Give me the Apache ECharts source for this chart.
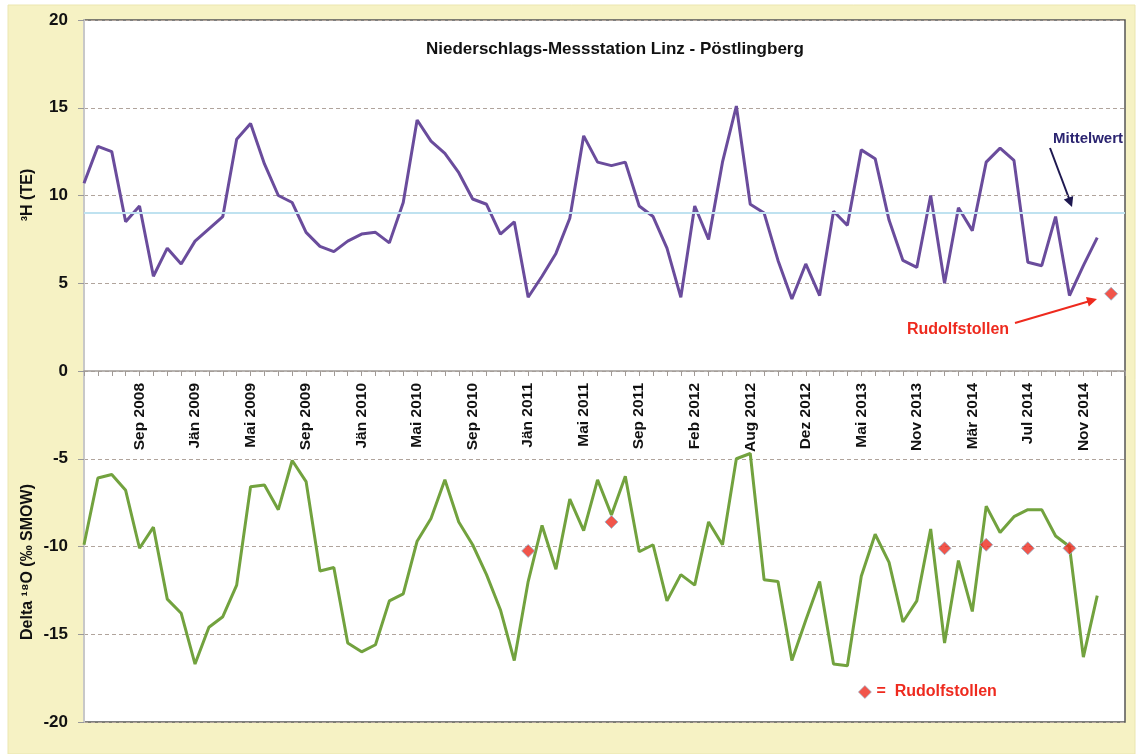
<!DOCTYPE html>
<html>
<head>
<meta charset="utf-8">
<script src="https://cdn.jsdelivr.net/npm/echarts@6/dist/echarts.min.js"></script>
<style>
  html, body { margin: 0; padding: 0; background: #fff; }
  #chart { width: 1137px; height: 754px; }
</style>
</head>
<body>
<div id="chart"></div>
<script>
// Beschriftete Monate (jede 4. Probe)
const tickLabels = ['Sep 2008', 'Jän 2009', 'Mai 2009', 'Sep 2009', 'Jän 2010', 'Mai 2010',
  'Sep 2010', 'Jän 2011', 'Mai 2011', 'Sep 2011', 'Feb 2012', 'Aug 2012', 'Dez 2012',
  'Mai 2013', 'Nov 2013', 'Mär 2014', 'Jul 2014', 'Nov 2014']
const sampleCount = 76

// Tritium (TE), Niederschlag
const tritium = [10.7, 12.8, 12.5, 8.5, 9.4, 5.4, 7.0, 6.1, 7.4, 8.1,
  8.8, 13.2, 14.1, 11.8, 10.0, 9.6, 7.9, 7.1, 6.8, 7.4,
  7.8, 7.9, 7.3, 9.6, 14.3, 13.1, 12.4, 11.3, 9.8, 9.5,
  7.8, 8.5, 4.2, 5.4, 6.7, 8.7, 13.4, 11.9, 11.7, 11.9,
  9.4, 8.8, 7.0, 4.2, 9.4, 7.5, 11.9, 15.1, 9.5, 9.0,
  6.3, 4.1, 6.1, 4.3, 9.1, 8.3, 12.6, 12.1, 8.6, 6.3,
  5.9, 10.0, 5.0, 9.3, 8.0, 11.9, 12.7, 12.0, 6.2, 6.0,
  8.8, 4.3, 6.0, 7.6]

// Delta 18O (‰ SMOW), Niederschlag
const delta18O = [-9.9, -6.1, -5.9, -6.8, -10.1, -8.9, -13.0, -13.8, -16.7, -14.6,
  -14.0, -12.2, -6.6, -6.5, -7.9, -5.1, -6.3, -11.4, -11.2, -15.5,
  -16.0, -15.6, -13.1, -12.7, -9.7, -8.4, -6.2, -8.6, -9.9, -11.6,
  -13.6, -16.5, -12.0, -8.8, -11.3, -7.3, -9.1, -6.2, -8.2, -6.0,
  -10.3, -9.9, -13.1, -11.6, -12.2, -8.6, -9.9, -5.0, -4.7, -11.9,
  -12.0, -16.5, -14.2, -12.0, -16.7, -16.8, -11.7, -9.3, -10.9, -14.3,
  -13.1, -9.0, -15.5, -10.8, -13.7, -7.7, -9.2, -8.3, -7.9, -7.9,
  -9.4, -10.0, -16.3, -12.8]

// Rudolfstollen Einzelproben
const rudolfIndex = [32, 38, 62, 65, 68, 71, 74]
const rudolfValue = [-10.25, -8.6, -10.1, -9.9, -10.1, -10.1, 4.4]

const meanTritium = 9.0

const categories = Array.from({ length: sampleCount }, (_, i) => String(i))
const labelAt = i => (i > 0 && i % 4 === 0 ? tickLabels[i / 4 - 1] : '')

const font = '"Liberation Sans", Arial, sans-serif'
const gridTop = 20
const gridBottom = 32
const plotHeight = 754 - gridTop - gridBottom

const myChart = echarts.init(document.getElementById('chart'))

myChart.setOption({
  animation: false,
  backgroundColor: '#fff',
  title: {
    text: 'Niederschlags-Messstation Linz - Pöstlingberg',
    left: 421,
    top: 36,
    textStyle: { fontFamily: font, fontSize: 17, fontWeight: 'bold', color: '#111' }
  },
  legend: {
    data: [{ name: 'Rudolfstollen', icon: 'diamond' }],
    left: 853,
    top: 679,
    itemWidth: 13,
    itemHeight: 13,
    itemGap: 6,
    itemStyle: { color: '#ee2a1e', borderColor: '#8fb8d0', borderWidth: 0.8 },
    formatter: '=  {name}',
    textStyle: { fontFamily: font, fontSize: 16, fontWeight: 'bold', color: '#ee2a1e' }
  },
  grid: {
    left: 84,
    top: gridTop,
    right: 12,
    bottom: gridBottom,
    outerBoundsMode: 'none',
    containLabel: false,
    show: true,
    backgroundColor: '#fff',
    borderColor: '#555',
    borderWidth: 1.5
  },
  graphic: [
    { type: 'rect', z: -10, shape: { x: 8, y: 5, width: 1127, height: 749 },
      style: { fill: '#f6f2c4', stroke: '#ebe6b0' } },
    { type: 'text', x: 28, y: 195, rotation: Math.PI / 2,
      style: { text: '³H (TE)', font: 'bold 16px ' + font, fill: '#111', align: 'center', verticalAlign: 'middle' } },
    { type: 'text', x: 28, y: 562, rotation: Math.PI / 2,
      style: { text: 'Delta ¹⁸O (‰ SMOW)', font: 'bold 16px ' + font, fill: '#111', align: 'center', verticalAlign: 'middle' } },
    { type: 'text', x: 1088, y: 139,
      style: { text: 'Mittelwert', font: 'bold 15px ' + font, fill: '#2b2470', align: 'center', verticalAlign: 'middle' } },
    { type: 'line', shape: { x1: 1050, y1: 148, x2: 1070, y2: 201 },
      style: { stroke: '#1e1850', lineWidth: 2 } },
    { type: 'polygon', shape: { points: [[1072, 207], [1063.8, 199.4], [1073.2, 195.9]] },
      style: { fill: '#1e1850' } },
    { type: 'text', x: 958, y: 330,
      style: { text: 'Rudolfstollen', font: 'bold 16px ' + font, fill: '#ee2a1e', align: 'center', verticalAlign: 'middle' } },
    { type: 'line', shape: { x1: 1015, y1: 323, x2: 1090, y2: 301 },
      style: { stroke: '#ee2a1e', lineWidth: 2 } },
    { type: 'polygon', shape: { points: [[1097, 299], [1088.8, 306.6], [1086.0, 297.0]] },
      style: { fill: '#ee2a1e' } }
  ],
  xAxis: {
    type: 'category',
    data: categories,
    boundaryGap: false,
    position: 'bottom',
    // Achse auf Höhe 0 (Mitte von -20..20)
    offset: -plotHeight / 2,
    axisLine: { onZero: false, lineStyle: { color: '#a09a96', width: 1.5 } },
    axisTick: { show: true, interval: 0, length: 5, lineStyle: { color: '#a09a96' } },
    axisLabel: {
      interval: i => i > 0 && i % 4 === 0,
      rotate: 90,
      margin: 12,
      formatter: (v, i) => labelAt(i),
      fontFamily: font,
      fontSize: 15.5,
      fontWeight: 'bold',
      color: '#111'
    },
    splitLine: { show: false }
  },
  yAxis: {
    type: 'value',
    min: -20,
    max: 20,
    interval: 5,
    axisLine: { show: true, lineStyle: { color: '#c8c8c8', width: 2 } },
    axisTick: { show: true, length: 6, lineStyle: { color: '#999' } },
    axisLabel: { margin: 16, fontFamily: font, fontSize: 17, fontWeight: 'bold', color: '#111' },
    splitLine: { show: true, lineStyle: { color: '#b0a49c', type: [4, 3], width: 1 } }
  },
  series: [
    {
      name: 'Tritium',
      type: 'line',
      data: tritium,
      showSymbol: false,
      lineStyle: { color: '#6a4c9c', width: 3 },
      itemStyle: { color: '#6a4c9c' },
      markLine: {
        silent: true,
        symbol: 'none',
        label: { show: false },
        lineStyle: { color: '#bfe2f0', width: 2, type: 'solid' },
        data: [{ yAxis: meanTritium }]
      },
      z: 3
    },
    {
      name: 'Delta18O',
      type: 'line',
      data: delta18O,
      showSymbol: false,
      lineStyle: { color: '#72a23e', width: 3 },
      itemStyle: { color: '#72a23e' },
      z: 3
    },
    {
      name: 'Rudolfstollen',
      type: 'scatter',
      data: rudolfIndex.map((x, k) => [x, rudolfValue[k]]),
      symbol: 'diamond',
      symbolSize: 13,
      itemStyle: { color: '#ee2a1e', borderColor: '#8fb8d0', borderWidth: 1 },
      z: 5
    }
  ]
})

window.addEventListener('resize', () => myChart.resize())
</script>
</body>
</html>
